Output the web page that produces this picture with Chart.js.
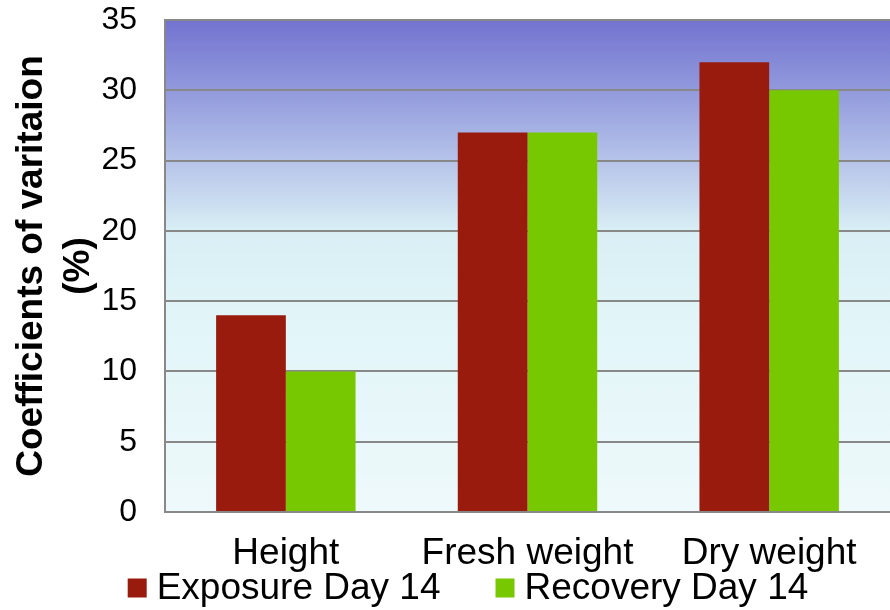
<!DOCTYPE html>
<html>
<head>
<meta charset="UTF-8">
<title>Coefficients of variation</title>
<script src="https://cdn.jsdelivr.net/npm/chart.js"></script>
<style>
    html, body { margin: 0; padding: 0; background: #ffffff; }
    #wrap { width: 890px; height: 610px; }
</style>
</head>
<body>
<div id="wrap"><canvas id="cvChart" width="890" height="610"></canvas></div>
<script>
    // data
    const categories = ['Height', 'Fresh weight', 'Dry weight'];
    const exposureDay14 = [14, 27, 32];
    const recoveryDay14 = [10, 27, 30];
    const seriesNames = ['Exposure Day 14', 'Recovery Day 14'];
    const yTitle = ['Coefficients of varitaion', '(%)'];

    const FONT = "'Liberation Sans', Arial, sans-serif";
    const GRID = '#888888';

    // gradient behind the plot area
    const plotBackground = {
        id: 'plotBackground',
        beforeDraw(chart) {
            const { ctx, chartArea: a } = chart;
            const g = ctx.createLinearGradient(0, a.top, 0, a.bottom);
            g.addColorStop(0, '#7373cf');
            g.addColorStop(0.14, '#9199dc');
            g.addColorStop(0.285, '#b6c3e9');
            g.addColorStop(0.43, '#d9eff5');
            g.addColorStop(0.6, '#e1f5f8');
            g.addColorStop(1, '#eef9fb');
            ctx.save();
            ctx.fillStyle = g;
            ctx.fillRect(a.left, a.top, a.right - a.left, a.bottom - a.top);
            ctx.restore();
        }
    };

    // legend row under the category labels (square + name per dataset)
    const bottomLegend = {
        id: 'bottomLegend',
        afterDraw(chart) {
            const ctx = chart.ctx;
            const box = 19, gap = 10, between = 55, centerX = 468, midY = 588;
            ctx.save();
            ctx.font = '37px ' + FONT;
            ctx.textBaseline = 'middle';
            const items = chart.data.datasets.map(ds => ({
                text: ds.label, color: ds.backgroundColor,
                w: ctx.measureText(ds.label).width
            }));
            let total = 0;
            items.forEach((it, i) => { total += box + gap + it.w + (i ? between : 0); });
            let x = centerX - total / 2;
            items.forEach(it => {
                ctx.fillStyle = it.color;
                ctx.fillRect(x, midY - box / 2, box, box);
                ctx.fillStyle = '#000000';
                ctx.fillText(it.text, x + box + gap, midY + 1);
                x += box + gap + it.w + between;
            });
            ctx.restore();
        }
    };

    new Chart(document.getElementById('cvChart'), {
        type: 'bar',
        data: {
            labels: categories,
            datasets: [
                { label: seriesNames[0], data: exposureDay14, backgroundColor: '#981b0e' },
                { label: seriesNames[1], data: recoveryDay14, backgroundColor: '#78c800' }
            ]
        },
        options: {
            responsive: false,
            animation: false,
            layout: { padding: { top: 20, right: 0, bottom: 0, left: 0 } },
            categoryPercentage: 0.577,
            barPercentage: 1.0,
            plugins: {
                tooltip: { enabled: false },
                legend: { display: false }
            },
            scales: {
                x: {
                    grid: { display: false, drawTicks: false },
                    border: { display: true, color: GRID, width: 2 },
                    ticks: {
                        color: '#000000',
                        padding: 20,
                        maxRotation: 0,
                        font: { family: FONT, size: 37 }
                    },
                    afterFit(s) { s.height = 98; }
                },
                y: {
                    min: 0,
                    max: 35,
                    ticks: {
                        stepSize: 5,
                        color: '#000000',
                        padding: 0,
                        font: { family: FONT, size: 32 }
                    },
                    grid: { color: GRID, lineWidth: 2, drawTicks: true, tickLength: 28, tickColor: 'rgba(0,0,0,0)' },
                    border: { display: true, color: GRID, width: 2 },
                    title: {
                        display: true,
                        text: yTitle,
                        color: '#000000',
                        padding: { top: 9, bottom: 0 },
                        font: { family: FONT, size: 37, weight: 'bold', lineHeight: 1.25 }
                    },
                    afterFit(s) { s.width = 165; }
                }
            }
        },
        plugins: [plotBackground, bottomLegend]
    });
</script>
</body>
</html>
